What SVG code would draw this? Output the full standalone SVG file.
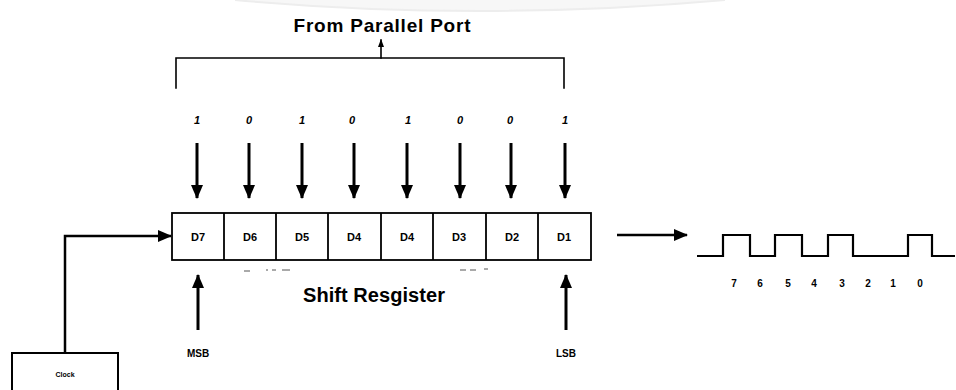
<svg xmlns="http://www.w3.org/2000/svg" width="956" height="390" viewBox="0 0 956 390">
<style>
  text { font-family: "Liberation Sans", Arial, sans-serif; fill: #000; font-weight: bold; }
  .title { font-size: 19px; }
  .bit { font-size: 11px; font-style: italic; text-anchor: middle; }
  .cell { font-size: 11px; text-anchor: middle; }
  .small { font-size: 10px; text-anchor: middle; }
  .line { stroke: #000; fill: none; stroke-linecap: square; }
  .box { stroke: #000; fill: #fff; stroke-width: 1.8; }
</style>
<defs>
  <marker id="head" markerUnits="userSpaceOnUse" markerWidth="14" markerHeight="14" viewBox="0 0 14 14" refX="13" refY="7" orient="auto">
    <path d="M0,1 L14,7 L0,13 Z" fill="#000"/>
  </marker>
  <marker id="headS" markerUnits="userSpaceOnUse" markerWidth="8" markerHeight="8" viewBox="0 0 8 8" refX="7" refY="4" orient="auto">
    <path d="M0,1 L8,4 L0,7 Z" fill="#000"/>
  </marker>
</defs>
<rect width="956" height="390" fill="#fff"/>
<path d="M235,0 Q480,22 725,0" fill="#f7f7f7" stroke="#ededed" stroke-width="2"/>

<g id="title">
  <text class="title" x="382" y="32" text-anchor="middle" textLength="177">From Parallel Port</text>
</g>

<g id="connectors">
  <path class="line" d="M176,88 V58 H564 V88" stroke-width="1.6"/>
  <line class="line" x1="381" y1="58" x2="381" y2="40" stroke-width="1.6" marker-end="url(#headS)"/>
  <g stroke="#000" stroke-width="3" marker-end="url(#head)">
    <line x1="197" y1="143" x2="197" y2="198"/>
    <line x1="249" y1="143" x2="249" y2="198"/>
    <line x1="302" y1="143" x2="302" y2="198"/>
    <line x1="354" y1="143" x2="354" y2="198"/>
    <line x1="407" y1="143" x2="407" y2="198"/>
    <line x1="460" y1="143" x2="460" y2="198"/>
    <line x1="511" y1="143" x2="511" y2="198"/>
    <line x1="565" y1="143" x2="565" y2="198"/>
  </g>
  <line x1="198" y1="330" x2="198" y2="275" stroke="#000" stroke-width="3" marker-end="url(#head)"/>
  <line x1="566" y1="330" x2="566" y2="275" stroke="#000" stroke-width="3" marker-end="url(#head)"/>
  <path d="M65,353 V236 H171" fill="none" stroke="#000" stroke-width="2.5" marker-end="url(#head)"/>
  <line x1="617" y1="235" x2="687" y2="235" stroke="#000" stroke-width="2.5" marker-end="url(#head)"/>
</g>

<g id="bits">
  <text class="bit" x="197" y="124">1</text>
  <text class="bit" x="249" y="124">0</text>
  <text class="bit" x="302" y="124">1</text>
  <text class="bit" x="352" y="124">0</text>
  <text class="bit" x="408" y="124">1</text>
  <text class="bit" x="460" y="124">0</text>
  <text class="bit" x="510" y="124">0</text>
  <text class="bit" x="565" y="124">1</text>
</g>

<g id="register">
  <rect class="box" x="172" y="213" width="419" height="47"/>
  <g stroke="#000" stroke-width="1.8">
    <line x1="224" y1="213" x2="224" y2="260"/>
    <line x1="276" y1="213" x2="276" y2="260"/>
    <line x1="328" y1="213" x2="328" y2="260"/>
    <line x1="381" y1="213" x2="381" y2="260"/>
    <line x1="433" y1="213" x2="433" y2="260"/>
    <line x1="486" y1="213" x2="486" y2="260"/>
    <line x1="538" y1="213" x2="538" y2="260"/>
  </g>
  <text class="cell" x="198" y="241">D7</text>
  <text class="cell" x="250" y="241">D6</text>
  <text class="cell" x="302" y="241">D5</text>
  <text class="cell" x="354" y="241">D4</text>
  <text class="cell" x="407" y="241">D4</text>
  <text class="cell" x="459" y="241">D3</text>
  <text class="cell" x="512" y="241">D2</text>
  <text class="cell" x="564" y="241">D1</text>
  <g stroke="#555" stroke-width="1">
    <line x1="244" y1="271" x2="250" y2="271"/>
    <line x1="266" y1="270" x2="268" y2="270"/>
    <line x1="272" y1="270" x2="276" y2="270"/>
    <line x1="282" y1="270" x2="290" y2="270"/>
    <line x1="460" y1="270" x2="466" y2="270"/>
    <line x1="470" y1="270" x2="476" y2="270"/>
    <line x1="484" y1="269" x2="488" y2="269"/>
  </g>
  <text x="374" y="302" font-size="20" text-anchor="middle" textLength="142">Shift Resgister</text>
</g>

<g id="msb"><text class="small" x="198" y="357" font-size="9">MSB</text></g>
<g id="lsb"><text class="small" x="566" y="357" font-size="9">LSB</text></g>

<g id="clock">
  <rect x="12" y="353" width="106" height="45" fill="#fff" stroke="#000" stroke-width="2"/>
  <text x="65" y="377" font-size="7" text-anchor="middle">Clock</text>
</g>

<g id="waveform">
  <path d="M697,256 H723 V235 H750 V256 H775 V235 H802 V256 H828 V235 H853 V256 H908 V235 H932 V256 H955" fill="none" stroke="#000" stroke-width="2.2"/>
  <text class="small" x="734" y="287">7</text>
  <text class="small" x="760" y="287">6</text>
  <text class="small" x="788" y="287">5</text>
  <text class="small" x="814" y="287">4</text>
  <text class="small" x="842" y="287">3</text>
  <text class="small" x="868" y="287">2</text>
  <text class="small" x="893" y="287">1</text>
  <text class="small" x="920" y="287">0</text>
</g>
</svg>
